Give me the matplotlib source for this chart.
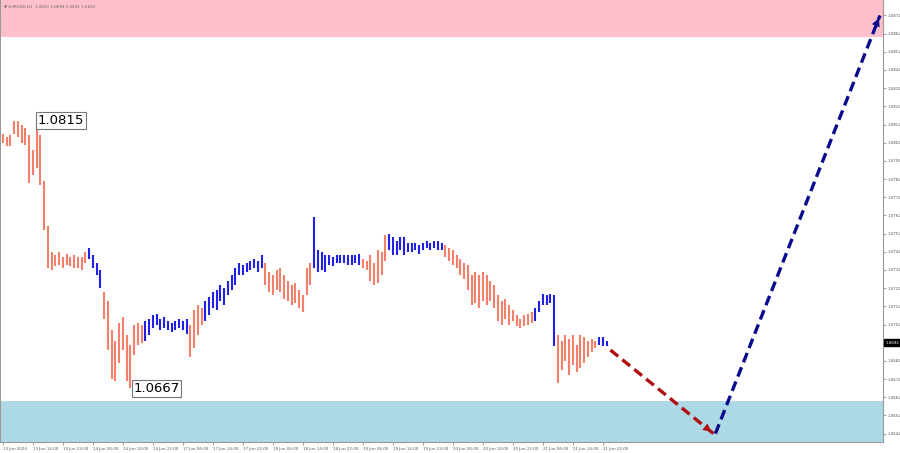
import matplotlib
matplotlib.use('Agg')
import matplotlib.pyplot as plt
import matplotlib.transforms as mtransforms

# H1 bars, 13 Jun 06:00 .. 21 Jun 23:00
highs = [1.0807, 1.0805, 1.0806, 1.0814, 1.0814, 1.0812, 1.0810, 1.0806, 1.0798, 1.0815,
         1.0806, 1.0781, 1.0756, 1.0742, 1.0740, 1.0742, 1.0739, 1.0741, 1.0739, 1.0740,
         1.0739, 1.0739, 1.0742, 1.0744, 1.0740, 1.0736, 1.0732, 1.0720, 1.0715, 1.0699,
         1.0693, 1.0703, 1.0706, 1.0696, 1.0691, 1.0702, 1.0703, 1.0702, 1.0704, 1.0705,
         1.0707, 1.0708, 1.0705, 1.0706, 1.0704, 1.0703, 1.0704, 1.0705, 1.0704, 1.0705,
         1.0702, 1.0710, 1.0713, 1.0711, 1.0715, 1.0717, 1.0720, 1.0721, 1.0724, 1.0722,
         1.0726, 1.0729, 1.0733, 1.0736, 1.0735, 1.0736, 1.0737, 1.0738, 1.0737, 1.0740,
         1.0736, 1.0731, 1.0729, 1.0732, 1.0733, 1.0729, 1.0726, 1.0724, 1.0725, 1.0721,
         1.0718, 1.0733, 1.0736, 1.0761, 1.0743, 1.0742, 1.0740, 1.0740, 1.0739, 1.0740,
         1.0740, 1.0740, 1.0740, 1.0740, 1.0740, 1.0741, 1.0738, 1.0737, 1.0740, 1.0736,
         1.0743, 1.0742, 1.0751, 1.0752, 1.0750, 1.0748, 1.0750, 1.0750, 1.0747, 1.0747,
         1.0747, 1.0746, 1.0747, 1.0748, 1.0747, 1.0748, 1.0748, 1.0747, 1.0746, 1.0744,
         1.0743, 1.0740, 1.0738, 1.0736, 1.0735, 1.0729, 1.0731, 1.0729, 1.0731, 1.0729,
         1.0726, 1.0724, 1.0718, 1.0715, 1.0716, 1.0713, 1.0710, 1.0707, 1.0705, 1.0707,
         1.0708, 1.0709, 1.0711, 1.0715, 1.0719, 1.0718, 1.0719, 1.0718, 1.0696, 1.0693,
         1.0696, 1.0694, 1.0696, 1.0691, 1.0696, 1.0695, 1.0693, 1.0694, 1.0693, 1.0695,
         1.0695, 1.0693]
lows = [1.0802, 1.0800, 1.0800, 1.0807, 1.0805, 1.0802, 1.0801, 1.0780, 1.0784, 1.0788,
        1.0779, 1.0754, 1.0733, 1.0732, 1.0734, 1.0735, 1.0733, 1.0735, 1.0734, 1.0733,
        1.0733, 1.0732, 1.0736, 1.0738, 1.0733, 1.0729, 1.0722, 1.0705, 1.0688, 1.0672,
        1.0671, 1.0681, 1.0688, 1.0671, 1.0667, 1.0685, 1.0691, 1.0692, 1.0693, 1.0696,
        1.0700, 1.0702, 1.0699, 1.0700, 1.0699, 1.0698, 1.0699, 1.0700, 1.0699, 1.0697,
        1.0684, 1.0689, 1.0696, 1.0702, 1.0704, 1.0707, 1.0711, 1.0710, 1.0715, 1.0713,
        1.0718, 1.0721, 1.0724, 1.0729, 1.0729, 1.0731, 1.0732, 1.0733, 1.0731, 1.0733,
        1.0724, 1.0720, 1.0718, 1.0721, 1.0720, 1.0716, 1.0715, 1.0713, 1.0714, 1.0711,
        1.0709, 1.0718, 1.0724, 1.0733, 1.0731, 1.0732, 1.0731, 1.0735, 1.0734, 1.0736,
        1.0736, 1.0736, 1.0735, 1.0735, 1.0736, 1.0735, 1.0733, 1.0732, 1.0726, 1.0724,
        1.0725, 1.0729, 1.0737, 1.0743, 1.0740, 1.0740, 1.0743, 1.0740, 1.0742, 1.0742,
        1.0743, 1.0741, 1.0743, 1.0744, 1.0743, 1.0744, 1.0743, 1.0743, 1.0739, 1.0737,
        1.0735, 1.0733, 1.0729, 1.0727, 1.0721, 1.0713, 1.0714, 1.0711, 1.0715, 1.0713,
        1.0715, 1.0711, 1.0704, 1.0702, 1.0705, 1.0702, 1.0704, 1.0701, 1.0700, 1.0701,
        1.0702, 1.0703, 1.0704, 1.0709, 1.0713, 1.0713, 1.0714, 1.0690, 1.0670, 1.0677,
        1.0682, 1.0674, 1.0680, 1.0676, 1.0678, 1.0681, 1.0684, 1.0687, 1.0689, 1.0691,
        1.0690, 1.0690]

# bar index ranges of the upward (blue) waves, the rest are downward (red)
up_waves = [(23, 26), (38, 49), (54, 69), (83, 95), (103, 117), (142, 147), (159, 161)]

time_labels = ["13 Jun 2024", "13 Jun 14:00", "13 Jun 22:00", "14 Jun 06:00", "14 Jun 14:00",
               "14 Jun 22:00", "17 Jun 06:00", "17 Jun 14:00", "17 Jun 22:00", "18 Jun 06:00",
               "18 Jun 14:00", "18 Jun 22:00", "19 Jun 06:00", "19 Jun 14:00", "19 Jun 22:00",
               "20 Jun 06:00", "20 Jun 14:00", "20 Jun 22:00", "21 Jun 06:00", "21 Jun 14:00",
               "21 Jun 22:00"]

# forecast path: now -> target low -> target high
forecast_x = [162, 189.5, 190, 233.9]
forecast_y = [1.0688, 1.0642, 1.0642, 1.0872]

resistance_zone = (1.0860, 1.0900)
support_zone = (1.0600, 1.0660)
last_price = 1.0692

red = '#F4806C'
blue = '#2020E8'

bar_colors = []
for i in range(len(highs)):
    c = red
    for a, b in up_waves:
        if a <= i <= b:
            c = blue
    bar_colors.append(c)

fig = plt.figure(figsize=(9, 4.53), dpi=100)
ax = fig.add_axes([0, 11 / 453, 883 / 900, 442 / 453])

ax.axhspan(*resistance_zone, color='#FFC0CB', lw=0, zorder=0)
ax.axhspan(*support_zone, color='#ADD8E6', lw=0, zorder=0)

idx = list(range(len(highs)))
ax.vlines(idx, lows, highs, colors=bar_colors, lw=1.5, zorder=2)

# extremes
ax.text(9.3, 1.08142, "1.0815", fontsize=9.5, va='center', ha='left', zorder=4,
        bbox=dict(boxstyle='square,pad=0.12', fc='white', ec='#777777', lw=0.8))
ax.text(34.8, 1.06668, "1.0667", fontsize=9.5, va='center', ha='left', zorder=4,
        bbox=dict(boxstyle='square,pad=0.12', fc='white', ec='#777777', lw=0.8))

# forecast arrows
ax.plot(forecast_x[:2], forecast_y[:2], ls=(0, (3, 1.6)), color='#B01010', lw=2.4, zorder=3)
ax.annotate('', xy=(forecast_x[1], forecast_y[1]),
            xytext=(forecast_x[1] - 3, forecast_y[1] + 0.00050),
            arrowprops=dict(arrowstyle='-|>', mutation_scale=15, color='#B01010', lw=0))
ax.plot(forecast_x[2:], forecast_y[2:], ls=(0, (3, 1.6)), color='#0A0A8C', lw=2.4, zorder=3)
ax.annotate('', xy=(forecast_x[3], forecast_y[3]),
            xytext=(forecast_x[3] - 1.2, forecast_y[3] - 0.0006),
            arrowprops=dict(arrowstyle='-|>', mutation_scale=15, color='#0A0A8C', lw=0))

ax.set_xlim(-0.8, 234.7)
ax.set_ylim(1.06374, 1.08805)

ax.set_xticks([8 * k for k in range(len(time_labels))])
ax.set_xticklabels(time_labels, fontsize=2.9, color='#555555', ha='left')
price_ticks = [round(1.0642 + 0.001 * k, 4) for k in range(24)]
ax.set_yticks(price_ticks)
# the last-price box covers the 1.0692 scale label
ax.set_yticklabels(["" if abs(p - last_price) < 1e-6 else f"{p:.4f}" for p in price_ticks],
                   fontsize=2.9, color='#555555')
ax.yaxis.tick_right()
ax.tick_params(axis='both', length=2, width=0.5, color='#777777', pad=1.5)

ax.spines['top'].set_visible(False)
for s in ['left', 'right', 'bottom']:
    ax.spines[s].set_color('#999999')
    ax.spines[s].set_linewidth(0.8)

trans = mtransforms.blended_transform_factory(ax.transAxes, ax.transData)
ax.text(1.003, last_price, f"{last_price:.4f}", transform=trans, fontsize=2.9, color='white',
        va='center', ha='left', bbox=dict(boxstyle='square,pad=0.35', fc='black', ec='black'))

fig.text(0.004, 0.986, "\u25bc EURUSD,H1  1.0692 1.0694 1.0691 1.0692", fontsize=3,
         color='#666666', va='center')

fig.savefig('out.png', dpi=100)
